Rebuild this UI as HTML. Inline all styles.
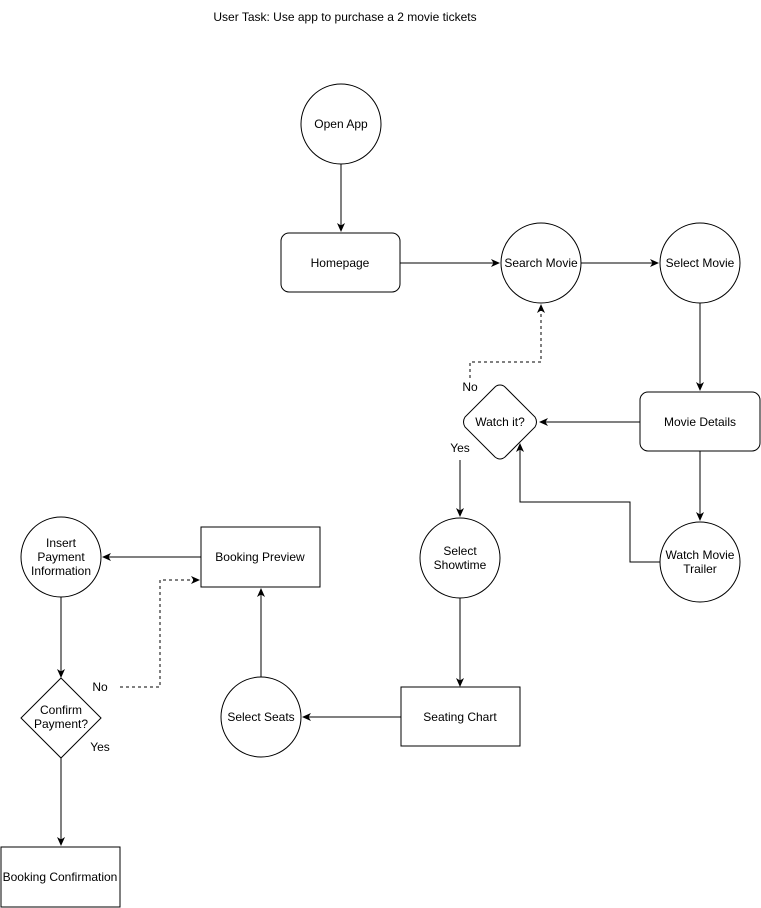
<!DOCTYPE html>
<html><head><meta charset="utf-8"><style>
html,body{margin:0;padding:0;background:#fff;}
svg{display:block;}
text{font-family:"Liberation Sans",Helvetica,Arial,sans-serif;font-size:12px;fill:#000;}
</style></head><body>
<svg width="761" height="908" viewBox="0 0 761 908" xmlns="http://www.w3.org/2000/svg">
<defs>
<marker id="a" markerWidth="10" markerHeight="10" refX="8" refY="5" orient="auto" markerUnits="userSpaceOnUse">
<path d="M0,1 L9,5 L0,9 L2.5,5 Z" fill="#000"/></marker>
</defs>
<g fill="none" stroke="#000" stroke-width="1">
<text x="345" y="21" text-anchor="middle" stroke="none">User Task: Use app to purchase a 2 movie tickets</text>

<circle cx="341" cy="124" r="40" fill="#fff"/>
<line x1="341" y1="164" x2="341" y2="231" marker-end="url(#a)"/>
<rect x="281" y="233" width="119" height="59" rx="8" fill="#fff"/>
<line x1="400" y1="263" x2="499" y2="263" marker-end="url(#a)"/>
<circle cx="541" cy="263" r="40" fill="#fff"/>
<line x1="581" y1="263" x2="658" y2="263" marker-end="url(#a)"/>
<circle cx="700" cy="263" r="40" fill="#fff"/>
<line x1="700" y1="303" x2="700" y2="390" marker-end="url(#a)"/>
<rect x="640" y="392" width="120" height="59" rx="8" fill="#fff"/>
<line x1="640" y1="422" x2="540" y2="422" marker-end="url(#a)"/>
<path d="M500,385 Q503,385 505,387 L535,417 Q538,422 535,427 L505,457 Q500,461 495,457 L465,427 Q462,422 465,417 L495,387 Q497,385 500,385 Z" fill="#fff"/>
<path d="M470,378 L470,362 L541,362 L541,305" stroke-dasharray="3,3" marker-end="url(#a)"/>
<line x1="460" y1="460" x2="460" y2="516" marker-end="url(#a)"/>
<circle cx="460" cy="558" r="40" fill="#fff"/>
<line x1="700" y1="451" x2="700" y2="520" marker-end="url(#a)"/>
<circle cx="700" cy="562" r="40" fill="#fff"/>
<path d="M660,562 L630,562 L630,502 L520,502 L520,444" marker-end="url(#a)"/>
<line x1="460" y1="598" x2="460" y2="686" marker-end="url(#a)"/>
<rect x="401" y="687" width="119" height="59" fill="#fff"/>
<line x1="401" y1="717" x2="303" y2="717" marker-end="url(#a)"/>
<circle cx="261" cy="717" r="40" fill="#fff"/>
<line x1="261" y1="677" x2="261" y2="589" marker-end="url(#a)"/>
<rect x="201" y="527" width="119" height="60" fill="#fff"/>
<line x1="201" y1="557" x2="103" y2="557" marker-end="url(#a)"/>
<circle cx="61" cy="557" r="40" fill="#fff"/>
<line x1="61" y1="597" x2="61" y2="677" marker-end="url(#a)"/>
<path d="M61,678 L101,718 L61,758 L21,718 Z" fill="#fff"/>
<path d="M120,687 L160,687 L160,580 L199,580" stroke-dasharray="3,3" marker-end="url(#a)"/>
<line x1="61" y1="758" x2="61" y2="845" marker-end="url(#a)"/>
<rect x="1" y="847" width="119" height="60" fill="#fff"/>
</g>
<g text-anchor="middle">
<text x="341" y="128">Open App</text>
<text x="340" y="267">Homepage</text>
<text x="541" y="267">Search Movie</text>
<text x="700" y="267">Select Movie</text>
<text x="700" y="426">Movie Details</text>
<text x="500" y="426">Watch it?</text>
<text x="470" y="391">No</text>
<text x="460" y="452">Yes</text>
<text x="460" y="555">Select</text>
<text x="460" y="569">Showtime</text>
<text x="700" y="559">Watch Movie</text>
<text x="700" y="573">Trailer</text>
<text x="460" y="721">Seating Chart</text>
<text x="261" y="721">Select Seats</text>
<text x="260" y="561">Booking Preview</text>
<text x="61" y="547">Insert</text>
<text x="61" y="561">Payment</text>
<text x="61" y="575">Information</text>
<text x="61" y="714">Confirm</text>
<text x="61" y="728">Payment?</text>
<text x="100" y="691">No</text>
<text x="100" y="751">Yes</text>
<text x="60" y="881">Booking Confirmation</text>
</g>
</svg>
</body></html>
